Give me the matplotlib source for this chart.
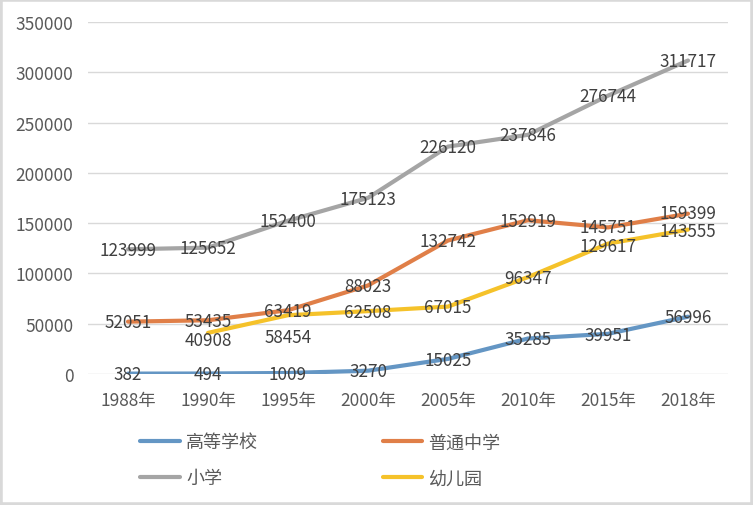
import numpy as np
import matplotlib
matplotlib.use("Agg")
import matplotlib.pyplot as plt
from matplotlib.patches import Rectangle

plt.rcParams["font.family"] = ["Noto Sans CJK SC", "DejaVu Sans"]

years = ["1988年", "1990年", "1995年", "2000年", "2005年", "2010年", "2015年", "2018年"]
higher = [382, 494, 1009, 3270, 15025, 35285, 39951, 56996]
middle = [52051, 53435, 63419, 88023, 132742, 152919, 145751, 159399]
primary = [123999, 125652, 152400, 175123, 226120, 237846, 276744, 311717]
kinder = [np.nan, 40908, 58454, 62508, 67015, 96347, 129617, 143555]

series = [
    ("高等学校", higher, "#6496c4"),
    ("普通中学", middle, "#e07f48"),
    ("小学", primary, "#a5a5a5"),
    ("幼儿园", kinder, "#f5c22a"),
]

# label nudges (points) for crowded labels
nudge = {("幼儿园", 1): -4.5, ("幼儿园", 2): -15.5,
         ("普通中学", 7): 1.0, ("幼儿园", 7): -0.8,
         ("普通中学", 6): 0.8, ("幼儿园", 6): -1.2}

W, H = 753, 506
fig = plt.figure(figsize=(W / 100, H / 100), dpi=100)
ax = fig.add_axes([88 / W, 131 / H, 640 / W, 352 / H])

x = np.arange(len(years))
lines = {}
for name, vals, color in series:
    (ln,) = ax.plot(x, vals, color=color, lw=3, solid_capstyle="round", zorder=3)
    lines[name] = ln
    for i, v in enumerate(vals):
        if np.isnan(v):
            continue
        dy = nudge.get((name, i), 0)
        ax.annotate(str(int(v)), (x[i], v), xytext=(0, dy - 0.5), textcoords="offset points",
                    ha="center", va="center", fontsize=12.3, color="#404040", zorder=5)

ax.set_xlim(-0.5, len(years) - 0.5)
ax.set_ylim(0, 350000)
ax.set_yticks(np.arange(0, 350001, 50000))
ax.set_yticklabels([str(v) for v in range(0, 350001, 50000)])
ax.set_xticks(x)
ax.set_xticklabels(years)
ax.tick_params(axis="both", length=0, labelsize=12.5, labelcolor="#595959")
ax.tick_params(axis="y", pad=10.5)
ax.tick_params(axis="x", pad=12)
ax.grid(axis="y", color="#d9d9d9", lw=1, zorder=0)
for s in ax.spines.values():
    s.set_visible(False)

order = ["高等学校", "小学", "普通中学", "幼儿园"]
fig.legend([lines[n] for n in order], order, ncol=2, loc="upper left",
           bbox_to_anchor=(124 / W, 1 - 418 / H), frameon=False, fontsize=13,
           labelcolor="#595959", handlelength=2.2, handletextpad=0.33,
           columnspacing=6.9, labelspacing=1.0)

fig.patches.append(Rectangle((0, 0), 1, 1, transform=fig.transFigure, fill=False,
                             edgecolor="#d9d9d9", lw=4))

fig.savefig("out.png", dpi=100)
